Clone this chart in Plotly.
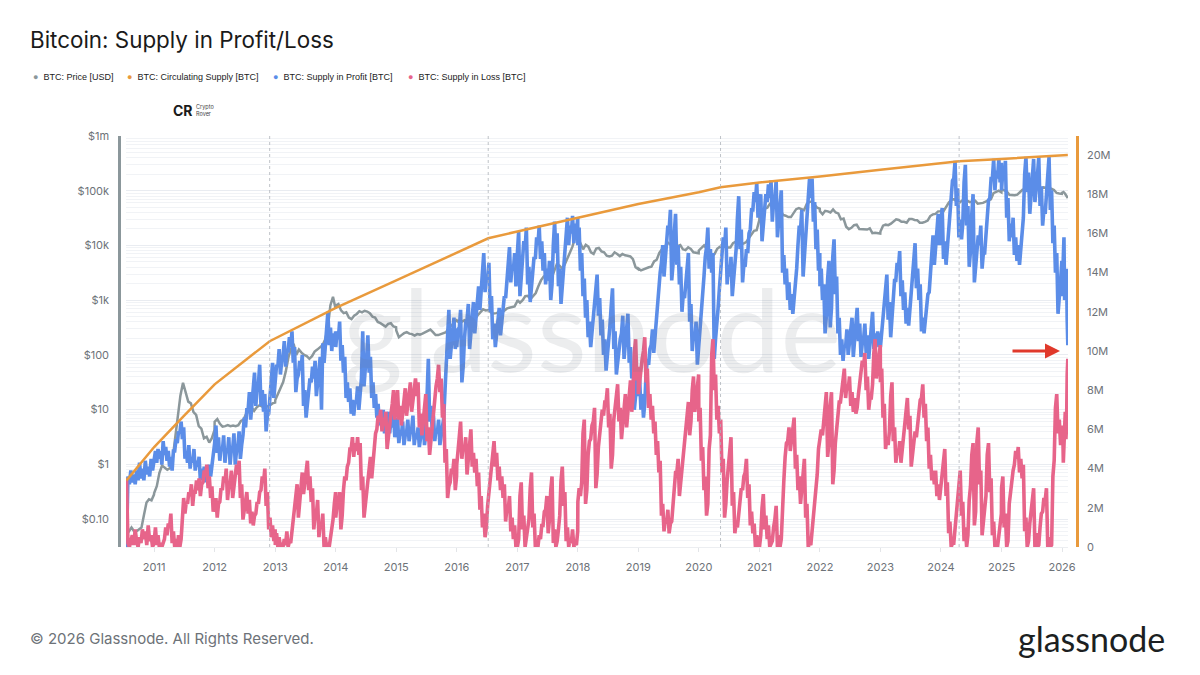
import pandas as pd
import plotly.graph_objects as go

# Values. One inner list per calendar year, 2010 to 2026.
years = list(range(2010, 2027))

# Supply in profit, million BTC
profit_m = [
    [0.0, 3.6, 3.2, 3.9, 3.3, 3.7, 3.2, 3.9, 3.4, 4.3, 3.5, 4.0, 3.4, 4.4, 3.7, 4.1, 3.6, 4.5, 3.9, 4.6],
    [4.4, 4.9, 4.3, 5.0, 4.5, 4.9, 4.2, 5.4, 4.7, 5.1, 4.4, 4.9, 4.1, 4.6, 3.9, 4.9, 4.9, 5.5, 5.3, 5.9, 5.8, 6.4, 5.5, 6.1, 4.5, 4.9, 4.3, 5.2, 4.0, 4.6, 4.3, 5.0, 3.9, 4.4, 4.1, 4.6, 3.4, 4.0, 3.5, 4.1, 3.3, 3.9, 3.5, 4.2, 3.6, 4.2, 4.4, 5.2],
    [5.3, 6.2, 4.8, 5.6, 4.4, 5.1, 4.9, 5.7, 4.3, 5.0, 4.8, 5.6, 4.2, 5.0, 5.0, 5.8, 4.2, 4.9, 5.1, 5.9, 4.5, 5.2, 5.7, 6.6, 6.1, 7.0, 7.0, 7.9, 6.5, 7.3, 7.9, 8.9, 7.2, 8.1, 8.3, 9.3, 7.2, 8.0, 6.9, 7.8, 5.9, 6.7, 6.8, 7.7, 8.4, 9.4, 7.6, 8.5],
    [8.5, 9.3, 9.2, 10.1, 8.8, 9.5, 9.7, 10.5, 9.2, 10.0, 10.0, 10.7, 10.2, 11.0, 9.4, 10.2, 7.9, 8.6, 8.8, 9.5, 9.0, 9.8, 7.2, 8.0, 6.6, 7.4, 7.8, 8.6, 8.4, 9.2, 8.6, 9.5, 7.7, 8.4, 8.9, 9.7, 7.0, 10.4, 9.4, 10.2, 11.0, 12.0, 10.3, 11.2, 10.0, 10.9, 10.4, 11.0],
    [10.2, 11.0, 10.6, 11.5, 9.5, 10.3, 8.9, 9.7, 7.6, 8.4, 7.4, 8.1, 6.8, 7.5, 6.7, 7.4, 7.4, 8.2, 7.0, 7.8, 8.6, 11.0, 8.2, 9.1, 9.6, 10.8, 8.9, 9.7, 7.6, 8.4, 7.1, 7.8, 6.6, 7.3, 6.2, 6.9, 6.3, 7.0, 5.8, 6.4, 6.2, 6.9, 5.8, 6.5, 6.1, 6.8, 5.6, 6.2],
    [5.9, 6.6, 5.3, 5.9, 5.7, 6.4, 5.2, 5.7, 5.8, 6.5, 5.4, 5.9, 6.0, 6.7, 5.2, 5.8, 5.5, 6.1, 5.1, 5.6, 5.9, 6.6, 5.2, 5.8, 8.2, 9.6, 6.4, 7.2, 6.0, 6.7, 5.4, 6.0, 5.8, 6.5, 5.2, 5.7, 5.9, 6.6, 8.0, 9.5, 11.0, 12.1, 9.6, 10.5, 10.8, 11.7, 10.1, 11.0],
    [10.2, 11.1, 11.2, 12.1, 8.4, 9.2, 10.6, 11.5, 11.6, 12.4, 10.1, 10.9, 11.7, 12.5, 10.9, 11.8, 12.4, 13.3, 12.1, 13.0, 14.0, 15.0, 13.0, 13.9, 13.6, 14.5, 12.0, 12.8, 10.6, 11.4, 10.2, 11.0, 11.3, 12.2, 10.8, 11.6, 11.9, 12.8, 12.7, 13.6, 14.3, 15.3, 13.5, 14.4, 14.1, 15.0, 13.3, 14.2],
    [15.0, 16.1, 12.8, 13.7, 14.6, 15.6, 15.2, 16.3, 13.4, 14.3, 12.5, 13.3, 13.9, 14.8, 14.7, 15.8, 15.4, 16.4, 14.7, 15.6, 14.1, 15.0, 13.4, 14.2, 13.6, 14.6, 12.6, 13.4, 15.4, 16.6, 15.0, 16.0, 13.3, 14.2, 12.4, 13.2, 14.2, 15.3, 15.8, 16.8, 15.4, 16.4, 16.0, 16.9, 15.5, 16.5, 15.9, 16.8],
    [15.4, 16.3, 14.1, 15.0, 12.8, 13.7, 11.7, 12.6, 10.7, 11.5, 10.2, 11.0, 11.3, 12.2, 13.0, 13.9, 11.8, 12.7, 10.8, 11.6, 9.8, 10.6, 9.0, 9.7, 10.4, 11.3, 12.3, 13.2, 10.1, 11.0, 8.8, 9.5, 9.8, 10.6, 10.9, 11.8, 9.6, 10.4, 11.0, 11.9, 9.4, 10.2, 8.6, 9.3, 7.0, 7.8, 8.2, 9.1],
    [7.7, 8.6, 7.0, 7.8, 6.6, 7.3, 8.8, 9.6, 9.3, 10.1, 10.3, 11.1, 9.9, 10.8, 11.4, 12.2, 13.0, 14.0, 14.5, 15.4, 13.8, 14.8, 15.4, 16.4, 16.2, 17.2, 13.6, 14.4, 16.0, 17.0, 14.4, 15.4, 13.4, 14.3, 12.0, 12.9, 12.7, 13.6, 14.0, 15.0, 11.5, 12.4, 10.0, 10.9, 10.6, 11.5, 9.3, 10.1],
    [10.3, 11.2, 12.0, 13.0, 13.8, 14.8, 15.3, 16.3, 14.2, 15.2, 14.0, 15.0, 9.6, 10.6, 11.2, 12.2, 13.2, 14.2, 14.8, 15.8, 15.3, 16.3, 13.4, 14.4, 13.8, 14.8, 12.8, 13.6, 14.2, 15.2, 16.8, 17.9, 15.2, 16.2, 13.5, 14.4, 14.3, 15.2, 15.0, 16.0, 16.2, 17.2, 17.2, 18.1, 17.6, 18.6, 16.8, 17.8],
    [17.0, 18.0, 15.6, 16.5, 17.0, 18.0, 17.6, 18.5, 17.8, 18.7, 16.6, 17.6, 17.8, 18.7, 15.8, 16.7, 17.2, 18.2, 14.0, 14.9, 13.4, 14.2, 12.6, 13.5, 12.1, 12.9, 11.9, 12.6, 13.2, 14.2, 15.4, 16.4, 16.2, 17.2, 13.8, 14.8, 15.4, 16.5, 18.0, 18.8, 17.8, 18.8, 16.6, 17.6, 15.2, 16.2, 14.1, 15.0],
    [13.3, 14.2, 12.6, 13.4, 10.9, 11.8, 13.7, 14.6, 11.2, 12.2, 14.8, 15.7, 12.9, 13.8, 10.9, 11.7, 9.8, 10.6, 9.5, 10.3, 10.2, 11.1, 9.8, 10.6, 10.9, 11.7, 9.7, 10.5, 11.3, 12.2, 10.5, 11.4, 9.7, 10.4, 10.6, 11.4, 9.9, 10.8, 9.6, 10.3, 11.1, 12.0, 10.1, 10.9, 10.3, 11.0, 10.2, 10.9],
    [10.2, 11.0, 11.6, 12.5, 13.0, 13.9, 11.6, 12.5, 10.7, 11.5, 12.7, 13.6, 13.6, 14.5, 14.2, 15.1, 12.8, 13.6, 12.1, 13.0, 11.4, 12.2, 11.3, 12.1, 13.1, 14.0, 14.6, 15.5, 13.2, 14.2, 12.6, 13.4, 11.0, 11.7, 10.9, 11.6, 12.0, 12.9, 13.0, 14.0, 15.0, 15.9, 14.4, 15.4, 16.0, 17.0, 15.4, 16.4],
    [16.4, 17.3, 14.7, 15.6, 14.4, 15.2, 16.4, 17.3, 17.8, 18.7, 18.8, 19.7, 17.4, 18.3, 15.8, 16.7, 15.7, 16.5, 18.6, 19.5, 16.4, 17.4, 14.3, 15.1, 17.0, 18.0, 13.5, 14.4, 15.0, 15.9, 15.4, 16.4, 14.2, 15.0, 15.0, 16.0, 16.8, 17.7, 17.8, 18.8, 18.8, 19.8, 18.2, 19.2, 18.8, 19.8, 18.6, 19.6],
    [18.2, 19.2, 18.8, 19.7, 16.8, 17.8, 15.6, 16.5, 15.8, 16.8, 14.9, 15.8, 14.6, 15.4, 14.4, 15.2, 15.8, 16.8, 19.0, 19.9, 18.1, 19.1, 17.0, 18.0, 18.8, 19.8, 17.6, 18.6, 19.0, 19.9, 17.4, 18.4, 16.4, 17.2, 17.0, 18.0, 19.0, 19.9, 17.2, 18.2, 15.5, 16.4, 14.0, 15.0, 11.9, 12.6, 13.6, 14.6],
    [12.8, 13.6, 14.8, 15.8, 12.6, 13.6, 13.4, 14.2, 11.6, 10.3],
]

# Supply in loss, million BTC
loss_m = [
    [3.5, 0.2, 0.0, 0.4, 0.6, 0.1, 0.9, 0.3, 0.0, 0.5, 0.2, 0.9, 0.4, 0.8, 0.1, 1.1, 0.3, 0.6, 0.0, 0.2],
    [0.4, 1.0, 0.1, 0.6, 0.0, 0.2, 0.0, 0.3, 0.4, 1.0, 0.6, 1.2, 1.0, 1.7, 0.2, 0.8, 0.0, 0.4, 0.0, 0.6, 0.0, 0.4, 1.9, 2.5, 1.7, 2.3, 2.2, 2.8, 2.6, 3.2, 2.1, 2.8, 2.8, 3.4, 2.9, 3.5, 2.6, 3.2, 3.3, 3.9, 3.6, 4.2, 3.0, 3.6, 2.5, 3.1, 1.8, 2.4],
    [1.9, 2.5, 1.5, 2.2, 2.3, 3.0, 2.9, 3.6, 3.3, 4.0, 2.4, 3.1, 3.2, 3.9, 2.5, 3.2, 3.5, 4.2, 3.7, 4.4, 2.5, 3.2, 1.4, 1.9, 2.1, 2.8, 1.7, 2.4, 1.2, 1.8, 1.1, 1.6, 1.7, 2.3, 2.2, 2.8, 2.9, 3.6, 3.3, 4.0, 2.1, 2.8, 0.9, 1.5, 0.5, 1.1, 0.3, 0.9],
    [0.1, 0.7, 0.0, 0.5, 0.0, 0.2, 0.0, 0.4, 0.1, 0.8, 0.0, 0.3, 0.2, 0.9, 1.3, 2.0, 2.6, 3.2, 1.5, 2.2, 3.1, 3.8, 2.7, 3.4, 3.8, 4.4, 2.9, 3.6, 2.3, 3.0, 0.9, 1.6, 1.7, 2.4, 0.5, 1.2, 1.0, 1.7, 0.0, 0.5, 0.0, 0.2, 0.0, 0.5, 0.7, 1.4, 2.2, 2.8],
    [1.5, 2.2, 2.1, 2.8, 0.9, 1.6, 2.9, 3.6, 3.4, 4.1, 4.3, 5.0, 5.0, 5.6, 4.6, 5.3, 4.9, 5.6, 4.7, 5.3, 2.9, 3.6, 1.5, 2.1, 2.7, 3.4, 3.9, 4.6, 3.5, 4.2, 5.1, 5.8, 6.0, 6.7, 6.4, 7.0, 5.9, 6.6, 6.2, 6.9, 5.0, 5.7, 6.1, 6.8, 7.3, 8.0, 6.5, 7.2],
    [7.3, 8.0, 6.5, 7.2, 6.2, 6.9, 7.4, 8.1, 6.7, 7.4, 7.8, 8.4, 6.9, 7.6, 8.0, 8.6, 7.7, 8.4, 6.1, 6.8, 5.7, 6.4, 7.1, 7.8, 5.4, 6.1, 4.7, 5.3, 6.1, 6.8, 7.5, 8.2, 8.6, 9.3, 7.9, 8.6, 6.6, 7.3, 4.3, 5.0, 2.5, 3.1, 3.3, 4.0, 3.8, 4.5, 2.9, 3.6],
    [4.2, 4.9, 5.7, 6.4, 4.5, 5.2, 4.9, 5.6, 3.7, 4.4, 5.3, 6.0, 4.1, 4.8, 3.8, 4.5, 3.1, 3.8, 1.9, 2.6, 1.0, 1.7, 0.5, 1.0, 2.1, 2.8, 3.7, 4.4, 4.8, 5.4, 4.1, 4.8, 3.4, 4.1, 2.9, 3.6, 2.5, 3.2, 1.3, 2.0, 1.9, 2.6, 0.8, 1.5, 0.4, 1.1, 0.0, 0.6],
    [0.0, 0.4, 2.6, 3.3, 0.9, 1.6, 0.0, 0.5, 0.7, 1.4, 3.0, 3.8, 1.0, 1.7, 0.0, 0.2, 0.0, 0.6, 0.4, 1.1, 1.1, 1.8, 1.9, 2.6, 0.7, 1.4, 2.9, 3.6, 0.2, 0.9, 0.0, 0.3, 0.9, 1.6, 3.4, 4.1, 2.1, 2.8, 0.3, 1.0, 0.0, 0.4, 0.2, 0.9, 0.0, 0.2, 0.1, 0.8],
    [2.3, 3.0, 2.6, 3.3, 5.8, 6.5, 2.2, 2.9, 4.7, 5.4, 5.5, 6.2, 6.4, 7.1, 3.0, 3.7, 5.1, 5.8, 6.3, 7.0, 6.7, 7.4, 7.4, 8.1, 6.1, 6.8, 4.0, 4.7, 6.5, 7.2, 7.6, 8.3, 6.4, 7.1, 5.5, 6.2, 7.1, 7.8, 6.1, 6.8, 7.8, 8.5, 6.9, 7.6, 9.9, 10.6, 8.5, 9.2],
    [7.8, 8.5, 8.9, 9.6, 10.0, 10.7, 8.4, 9.1, 7.1, 7.8, 6.5, 7.2, 5.8, 6.4, 4.7, 5.4, 3.8, 4.4, 1.6, 2.2, 0.8, 1.4, 1.2, 1.9, 0.7, 1.2, 1.3, 2.0, 3.1, 3.8, 3.8, 4.5, 2.6, 3.3, 3.6, 4.3, 5.1, 5.8, 6.7, 7.4, 5.7, 6.4, 8.0, 8.7, 6.9, 7.6, 8.0, 8.8],
    [6.4, 7.1, 4.4, 5.1, 2.9, 3.6, 1.6, 2.2, 5.0, 5.7, 9.8, 10.6, 8.0, 8.8, 6.5, 7.2, 5.8, 6.5, 3.8, 4.5, 1.5, 2.2, 3.4, 4.1, 4.9, 5.6, 2.1, 2.8, 0.7, 1.2, 1.0, 1.7, 2.3, 3.0, 2.9, 3.6, 3.8, 4.5, 2.5, 3.2, 1.1, 1.8, 0.7, 1.2, 0.0, 0.6, 0.0, 0.4],
    [0.0, 0.6, 2.0, 2.7, 0.9, 1.6, 0.4, 1.1, 0.0, 0.2, 0.3, 1.0, 1.4, 2.1, 0.0, 0.6, 0.0, 0.4, 2.7, 3.4, 4.6, 5.3, 5.4, 6.1, 4.9, 5.6, 5.9, 6.6, 4.0, 4.7, 2.9, 3.6, 2.2, 2.9, 3.8, 4.5, 1.5, 2.2, 0.0, 0.2, 0.1, 0.8, 1.2, 1.9, 3.0, 3.7, 5.0, 5.7],
    [5.3, 6.0, 5.7, 6.4, 7.2, 7.9, 4.6, 5.3, 7.2, 7.9, 3.2, 3.9, 5.3, 6.0, 6.7, 7.4, 7.4, 8.1, 8.4, 9.1, 7.6, 8.3, 8.0, 8.7, 7.2, 7.9, 6.9, 7.6, 6.8, 7.1, 7.8, 8.5, 8.8, 9.5, 9.2, 9.9, 8.0, 8.7, 7.0, 7.6, 7.6, 8.3, 9.9, 10.6, 8.6, 9.3, 9.6, 10.3],
    [8.4, 9.1, 6.6, 7.3, 5.0, 5.6, 5.2, 5.9, 7.7, 8.4, 5.4, 6.1, 4.3, 4.9, 4.7, 5.4, 4.3, 5.0, 5.8, 6.5, 6.9, 7.6, 6.0, 6.7, 4.1, 4.7, 5.2, 5.9, 5.6, 6.3, 6.8, 7.5, 7.6, 8.3, 6.6, 7.3, 5.4, 6.1, 4.0, 4.7, 3.4, 3.9, 3.2, 3.9, 2.6, 3.2, 2.4, 3.0],
    [3.0, 3.7, 4.4, 5.0, 2.6, 3.3, 0.7, 1.3, 0.0, 0.2, 0.2, 0.9, 2.0, 2.7, 3.3, 3.9, 1.6, 2.3, 0.3, 1.0, 0.0, 0.6, 2.4, 3.1, 4.7, 5.3, 1.1, 1.8, 5.4, 6.1, 3.2, 3.9, 0.6, 1.3, 1.9, 2.6, 4.7, 5.3, 2.8, 3.5, 0.6, 1.3, 0.0, 0.2, 0.0, 0.5, 1.0, 1.7],
    [3.0, 3.6, 1.0, 1.7, 0.0, 0.3, 2.2, 2.9, 3.2, 3.9, 4.2, 4.9, 4.5, 5.1, 3.8, 4.5, 3.5, 4.2, 0.8, 1.5, 0.0, 0.3, 1.2, 1.9, 2.4, 3.0, 0.0, 0.7, 0.0, 0.1, 1.0, 1.7, 1.8, 2.5, 2.4, 3.0, 0.0, 0.5, 0.0, 0.1, 3.6, 4.4, 7.1, 7.8, 5.8, 6.5, 5.2, 5.9],
    [5.6, 6.2, 4.3, 5.0, 6.2, 6.9, 5.5, 6.2, 8.8, 9.6],
]

# Price, USD
price_usd = [
    [0.07, 0.06, 0.07, 0.06, 0.06, 0.065, 0.07, 0.12, 0.2, 0.23, 0.22, 0.28],
    [0.3, 0.4, 0.7, 0.95, 0.88, 0.8, 0.85, 1.2, 3, 7, 18, 31, 20, 14, 13, 9, 8, 5, 4.5, 3, 3.2, 2.5, 3, 4.2],
    [6, 6.7, 5.5, 4.9, 5, 5.2, 5, 5.1, 5, 5.2, 6.2, 6.6, 8.5, 9.2, 11, 9.5, 11, 12, 11.5, 10.8, 11.5, 12, 13, 13.5],
    [15, 19, 25, 32, 50, 90, 130, 160, 100, 125, 110, 100, 95, 85, 95, 115, 125, 135, 150, 190, 300, 800, 1150, 700],
    [800, 850, 650, 580, 600, 480, 450, 520, 560, 630, 600, 640, 620, 580, 500, 480, 400, 380, 350, 330, 370, 380, 330, 320],
    [280, 210, 230, 250, 260, 245, 240, 225, 240, 235, 245, 260, 280, 290, 260, 230, 230, 240, 245, 260, 310, 350, 380, 430],
    [430, 380, 400, 430, 410, 420, 450, 460, 530, 590, 680, 650, 660, 600, 570, 580, 610, 620, 640, 700, 730, 750, 770, 950],
    [1000, 900, 1000, 1180, 1200, 1050, 1200, 1350, 1800, 2300, 2700, 2500, 2400, 2500, 3400, 4500, 4300, 3800, 4400, 5600, 7000, 9500, 14000, 17000],
    [14000, 11000, 8500, 10300, 9500, 7500, 7000, 8800, 9000, 7800, 7500, 6500, 6300, 6500, 7500, 7000, 6400, 7000, 6600, 6500, 6300, 5600, 4000, 3700],
    [3800, 3500, 3700, 3900, 4000, 4100, 5100, 5500, 7300, 8500, 9000, 11500, 10500, 10000, 10300, 9700, 10200, 8500, 8200, 9200, 8600, 7500, 7300, 7200],
    [8100, 8900, 10000, 8700, 5300, 6300, 7000, 8700, 9500, 9400, 9500, 9200, 9200, 11000, 11700, 11600, 10700, 10800, 11500, 13500, 16000, 18500, 19000, 29000],
    [35000, 33000, 47000, 49000, 58000, 58000, 60000, 55000, 45000, 36000, 35000, 33000, 33000, 40000, 46000, 48000, 46000, 44000, 57000, 62000, 64000, 57000, 49000, 47000],
    [42000, 37000, 43000, 42000, 40000, 45500, 40000, 38500, 30000, 31000, 22000, 19800, 21000, 23500, 24000, 20000, 20000, 19500, 19500, 20500, 16800, 17000, 17000, 16500],
    [18000, 23000, 24000, 23500, 25000, 28000, 30000, 29200, 27000, 27000, 26000, 30500, 30500, 29200, 29000, 26000, 26000, 27000, 28500, 34500, 37000, 37700, 42000, 42300],
    [43000, 42500, 52000, 61000, 68000, 70000, 63000, 60000, 66000, 67500, 66000, 62000, 64000, 66000, 58000, 59000, 60000, 63000, 66000, 70000, 90000, 96000, 100000, 93500],
    [105000, 102000, 97000, 84000, 82000, 82500, 85000, 94000, 104000, 105000, 105000, 107000, 118000, 115000, 118000, 108000, 115000, 114000, 111000, 109000, 103000, 91000, 89000, 88000],
    [92000, 95000, 89000, 82000, 73000],
]

# Circulating supply, million BTC
supply_dates = ["2010-07-18", "2011-01-01", "2011-07-01", "2012-01-01", "2012-11-28", "2014-01-01", "2015-01-01",
                "2016-01-01", "2016-07-09", "2017-01-01", "2018-01-01", "2019-01-01", "2020-01-01", "2020-05-11",
                "2021-01-01", "2022-01-01", "2023-01-01", "2024-01-01", "2024-04-20", "2025-01-01", "2026-02-05"]
supply_m = [3.4, 5.1, 6.7, 8.3, 10.5, 12.2, 13.6, 15.0, 15.75, 16.1, 16.8, 17.5, 18.1, 18.35,
            18.6, 18.9, 19.25, 19.6, 19.68, 19.8, 20.0]

halvings = ["2012-11-28", "2016-07-09", "2020-05-11", "2024-04-20"]

usd_ticks = [0.1, 1, 10, 100, 1000, 10000, 100000, 1000000]
usd_labels = ["$0.10", "$1", "$10", "$100", "$1k", "$10k", "$100k", "$1m"]
supply_ticks = [0, 2, 4, 6, 8, 10, 12, 14, 16, 18, 20]
supply_labels = ["0", "2M", "4M", "6M", "8M", "10M", "12M", "14M", "16M", "18M", "20M"]
year_ticks = [f"{y}-01-01" for y in range(2011, 2027)]
year_labels = [str(y) for y in range(2011, 2027)]

GRAY = "#8b979b"
ORANGE = "#e99a3c"
BLUE = "#5b8de8"
RED = "#e7648a"
FONT = "Inter"
MARGIN = 60
BODY = 8  # default page margin around the figure
FIG_W = 1200 - 2 * BODY
FIG_H = 675 - 2 * BODY


# Spread a year's readings evenly over the part of the year the data covers
def flatten(by_year):
    dates, values = [], []
    for year, vals in zip(years, by_year):
        start = "2010-07-18" if year == 2010 else f"{year}-01-01"
        end = "2026-02-05" if year == 2026 else f"{year}-12-31"
        dates.extend(pd.date_range(start, end, periods=len(vals)))
        values.extend(vals)
    return dates, values


# Positions on the 1200x675 page as paper coordinates
def px(x):
    return (x - BODY - MARGIN) / (FIG_W - 2 * MARGIN)


def py(y):
    return 1 - (y - BODY - MARGIN) / (FIG_H - 2 * MARGIN)


fig = go.Figure()

x, y = flatten(price_usd)
fig.add_trace(go.Scatter(x=x, y=y, name="BTC: Price [USD]", yaxis="y", mode="lines",
                         line=dict(color=GRAY, width=2.5)))
x, y = flatten(profit_m)
fig.add_trace(go.Scatter(x=x, y=y, name="BTC: Supply in Profit [BTC]", yaxis="y2", mode="lines",
                         line=dict(color=BLUE, width=3.6)))
x, y = flatten(loss_m)
fig.add_trace(go.Scatter(x=x, y=y, name="BTC: Supply in Loss [BTC]", yaxis="y2", mode="lines",
                         line=dict(color=RED, width=3.6)))
fig.add_trace(go.Scatter(x=supply_dates, y=supply_m, name="BTC: Circulating Supply [BTC]", yaxis="y2", mode="lines",
                         line=dict(color=ORANGE, width=2.5)))

# Halving dates
for d in halvings:
    fig.add_shape(type="line", x0=d, x1=d, xref="x", y0=py(547), y1=py(136), yref="paper",
                  line=dict(color="#aeb4ba", width=0.8, dash="dot"))

annotations = [
    dict(text="Bitcoin: Supply in Profit/Loss", x=px(28), y=py(40), font=dict(size=22.4, color="#1a1a1a", family=FONT)),
    dict(text="© 2026 Glassnode. All Rights Reserved.", x=px(28), y=py(638), font=dict(size=15, color="#6d7278", family=FONT)),
    dict(text="glassnode", x=px(1016), y=py(638), font=dict(size=34, color="#1c1f22", family="Lato")),
    dict(text="glassnode", x=px(341), y=py(327), font=dict(size=115, color="rgba(110,115,125,0.13)", family="Lato")),
    dict(text="<b>CR</b>", x=px(171), y=py(110), font=dict(size=14, color="#1a1a1a", family=FONT)),
    dict(text="Crypto<br>Rover", x=px(194), y=py(110), font=dict(size=5.5, color="#444444", family=FONT)),
]

# Legend row, placed by hand to keep the uneven spacing
legend_items = [("BTC: Price [USD]", GRAY, 31), ("BTC: Circulating Supply [BTC]", ORANGE, 125),
                ("BTC: Supply in Profit [BTC]", BLUE, 271), ("BTC: Supply in Loss [BTC]", RED, 406)]
for name, color, left in legend_items:
    annotations.append(dict(text=f"<span style='color:{color}'>●</span>  {name}", x=px(left), y=py(77),
                            font=dict(size=9, color="#222222", family="Liberation Sans")))

for a in annotations:
    a.update(xref="paper", yref="paper", xanchor="left", yanchor="middle", showarrow=False, align="left")

# Red arrow
annotations.append(dict(x=px(1060), y=py(351), ax=-49, ay=0, xref="paper", yref="paper",
                        text="", showarrow=True, arrowhead=2,
                        arrowsize=1, arrowwidth=3, arrowcolor="#e0392b"))

fig.update_layout(
    width=FIG_W,
    height=FIG_H,
    margin=dict(l=MARGIN, r=MARGIN, t=MARGIN, b=MARGIN),
    paper_bgcolor="white",
    plot_bgcolor="white",
    showlegend=False,
    font=dict(family=FONT, color="#6d7278", size=11),
    annotations=annotations,
    xaxis=dict(
        type="date",
        domain=[px(126), px(1068)],
        range=["2010-07-15", "2026-02-06"],
        tickvals=year_ticks,
        ticktext=year_labels,
        showgrid=False,
        ticks="outside",
        ticklen=4,
        tickcolor="#e3e5e8",
        ticklabelstandoff=6,
        showline=True,
        linecolor="#eceef1",
        linewidth=1,
        zeroline=False,
    ),
    yaxis=dict(
        type="log",
        domain=[py(547), py(136)],
        range=[-1.51, 6],
        anchor="free",
        position=px(119),
        tickvals=usd_ticks,
        ticktext=usd_labels,
        ticklabelstandoff=7,
        showline=True,
        linecolor="#8b979b",
        linewidth=2.5,
        gridcolor="#e9ecf1",
        gridwidth=1,
        minor=dict(showgrid=True, gridcolor="#f1f3f6", gridwidth=1, dtick="D1"),
        zeroline=False,
    ),
    yaxis2=dict(
        overlaying="y",
        side="right",
        range=[0, 20.97],
        anchor="free",
        position=px(1077),
        tickvals=supply_ticks,
        ticktext=supply_labels,
        ticklabelstandoff=6,
        showline=True,
        linecolor=ORANGE,
        linewidth=2.5,
        showgrid=False,
        zeroline=False,
    ),
)

fig.write_html("out.html")
